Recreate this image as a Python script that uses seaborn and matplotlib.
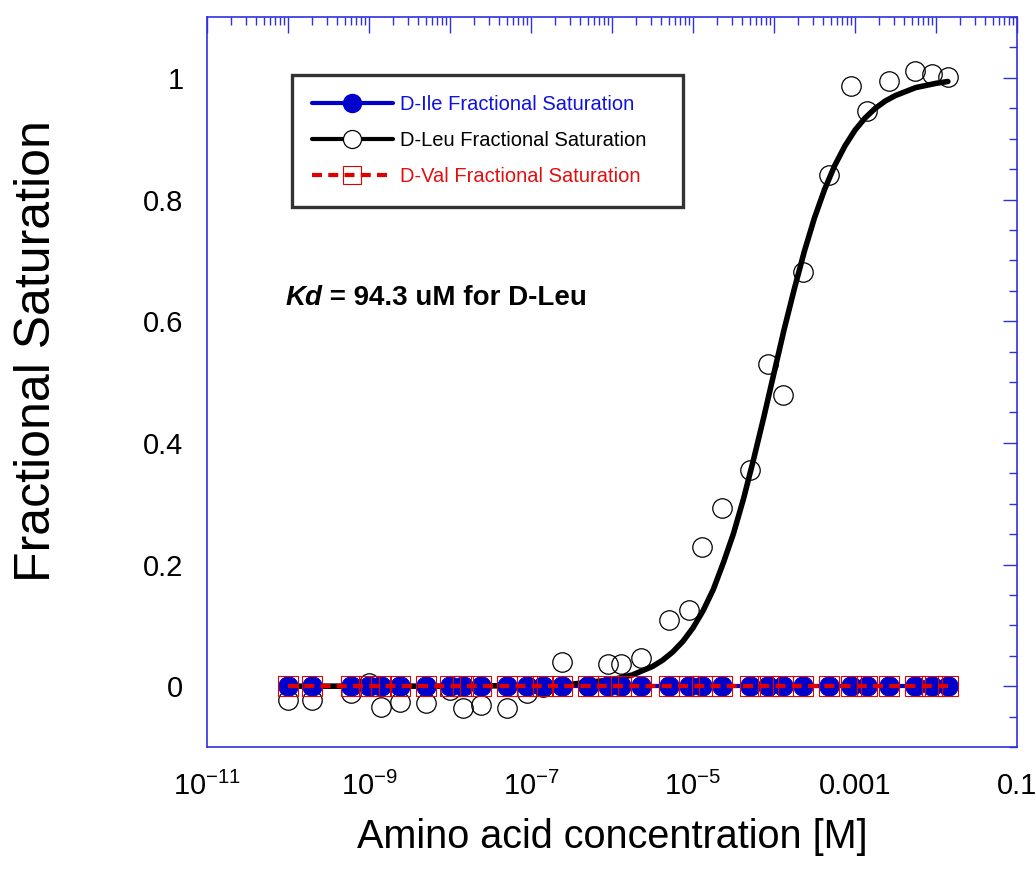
import numpy as np
import seaborn as sns
import matplotlib
matplotlib.use('Agg')
import matplotlib.pyplot as plt
from matplotlib.lines import Line2D
from matplotlib.ticker import LogLocator, FuncFormatter, NullFormatter, MultipleLocator

# concentrations [M] of the titration points
conc = [1e-10, 2e-10, 6e-10, 1e-9, 1.4e-9, 2.4e-9, 5e-9, 1e-8, 1.45e-8, 2.4e-8,
        5e-8, 9e-8, 1.4e-7, 2.4e-7, 5e-7, 9e-7, 1.3e-6, 2.3e-6, 5e-6, 9e-6,
        1.3e-5, 2.3e-5, 5e-5, 8.5e-5, 1.3e-4, 2.3e-4, 4.8e-4, 9e-4, 1.4e-3,
        2.6e-3, 5.5e-3, 9e-3, 1.4e-2]

# fractional saturation
ile_sat = [0.0] * len(conc)
val_sat = [0.0] * len(conc)
leu_sat = [-0.023, -0.023, -0.012, 0.005, -0.034, -0.026, -0.028, -0.007, -0.036, -0.031,
           -0.036, -0.012, -0.002, 0.039, 0.001, 0.037, 0.037, 0.046, 0.108, 0.126,
           0.228, 0.293, 0.355, 0.530, 0.478, 0.681, 0.841, 0.987, 0.946,
           0.995, 1.011, 1.007, 1.002]

# fitted D-Leu binding curve (Kd = 94.3 uM)
fit_conc = [1e-10, 1e-8, 1e-7, 3.16e-7, 1e-6, 1.78e-6, 3.16e-6, 4.22e-6, 5.62e-6, 7.5e-6,
            1e-5, 1.33e-5, 1.78e-5, 2.37e-5, 3.16e-5, 4.22e-5, 5.62e-5, 7.5e-5, 1e-4,
            1.33e-4, 1.78e-4, 2.37e-4, 3.16e-4, 4.22e-4, 5.62e-4, 7.5e-4, 1e-3, 1.33e-3,
            1.78e-3, 2.37e-3, 3.16e-3, 5.62e-3, 1e-2, 1.4e-2]
fit_sat = [0.0, 0.0001, 0.0011, 0.0033, 0.0105, 0.0185, 0.0324, 0.0428, 0.0563, 0.0737,
           0.096, 0.124, 0.159, 0.203, 0.251, 0.309, 0.374, 0.443, 0.515,
           0.586, 0.653, 0.715, 0.770, 0.817, 0.856, 0.888, 0.914, 0.934,
           0.950, 0.962, 0.971, 0.984, 0.991, 0.994]

labels = ['D-Ile Fractional Saturation', 'D-Leu Fractional Saturation', 'D-Val Fractional Saturation']
label_colors = ['#1010e0', 'black', '#e01010']

sns.set_style('white')
plt.rcParams['font.family'] = ['Liberation Sans', 'DejaVu Sans']
plt.rcParams['text.color'] = 'black'
plt.rcParams['axes.labelcolor'] = 'black'
plt.rcParams['xtick.labelcolor'] = 'black'
plt.rcParams['ytick.labelcolor'] = 'black'
plt.rcParams['axes.unicode_minus'] = False

fig = plt.figure(figsize=(10.36, 8.77), dpi=100)
ax = fig.add_axes([0.1998, 0.1482, 0.7819, 0.8324])

blue = '#0000cc'
red = '#e00000'

# D-Leu data points (open circles)
sns.lineplot(x=conc, y=leu_sat, ax=ax, estimator=None, sort=False, linestyle='none',
             marker='o', markersize=14, markerfacecolor='none', markeredgecolor='black',
             markeredgewidth=0.9, zorder=2)
# D-Ile connecting line
sns.lineplot(x=conc, y=ile_sat, ax=ax, estimator=None, color=blue, linewidth=3, zorder=1)
# fit curve
sns.lineplot(x=fit_conc, y=fit_sat, ax=ax, estimator=None, color='black', linewidth=4, zorder=3)
# D-Ile markers
sns.lineplot(x=conc, y=ile_sat, ax=ax, estimator=None, linestyle='none', marker='o',
             markersize=14, color=blue, markeredgecolor=blue, zorder=4)
# D-Val dashed line with open squares
sns.lineplot(x=conc, y=val_sat, ax=ax, estimator=None, color=red, linewidth=3,
             dashes=False, linestyle=(0, (2.4, 1.5)), marker='s', markersize=14.5,
             markerfacecolor='none', markeredgecolor=red, markeredgewidth=0.8, zorder=5)

ax.set_xscale('log')
ax.set_xlim(1e-11, 0.1)
ax.set_ylim(-0.1, 1.1)

def dec_fmt(v, pos):
    e = int(round(np.log10(v)))
    if e % 2 == 0:
        return ''
    if e >= -3:
        return f'{v:g}'
    return r'$\mathregular{10^{%d}}$' % e

ax.xaxis.set_major_locator(LogLocator(base=10, numticks=30))
ax.xaxis.set_minor_locator(LogLocator(base=10, subs=np.arange(2, 10), numticks=30))
ax.xaxis.set_major_formatter(FuncFormatter(dec_fmt))
ax.xaxis.set_minor_formatter(NullFormatter())
ax.yaxis.set_major_locator(MultipleLocator(0.2))
ax.yaxis.set_minor_locator(MultipleLocator(0.05))
ax.yaxis.set_major_formatter(FuncFormatter(lambda v, p: f'{v:g}' if abs(v) > 1e-9 else '0'))

axis_blue = '#3030e0'
for s in ax.spines.values():
    s.set_color(axis_blue)
    s.set_linewidth(1.2)
ax.tick_params(which='both', direction='in', top=True, right=True, color=axis_blue, width=1.0)
ax.tick_params(axis='x', which='major', length=11.5, pad=18, labelsize=21)
ax.tick_params(axis='x', which='minor', length=6)
ax.tick_params(axis='y', which='major', length=10, pad=17, labelsize=21)
ax.tick_params(axis='y', which='minor', length=5.5)

ax.set_xlabel('Amino acid concentration [M]', fontsize=28.5, labelpad=12)
ax.set_ylabel('Fractional Saturation', fontsize=36)
ax.yaxis.set_label_coords(-0.182, 0.5425)

# Kd annotation
t1 = ax.text(9.2e-11, 0.627, 'Kd', fontsize=20, fontweight='bold', fontstyle='italic',
             va='baseline', ha='left')
ax.annotate(' = 94.3 uM for D-Leu', xy=(1, 0), xycoords=t1, fontsize=20,
            fontweight='bold', va='bottom', ha='left')

handles = [
    Line2D([], [], color=blue, linewidth=3, marker='o', markersize=13, markerfacecolor=blue),
    Line2D([], [], color='black', linewidth=3, marker='o', markersize=13,
           markerfacecolor='white', markeredgewidth=0.9),
    Line2D([], [], color=red, linewidth=3, linestyle=(0, (2.4, 1.5)), marker='s',
           markersize=13.5, markerfacecolor='none', markeredgecolor=red, markeredgewidth=0.8),
]
leg = ax.legend(handles, labels, loc='upper left',
                bbox_to_anchor=(0.105, 0.7452, 0.4827, 0.1753), mode='expand',
                fontsize=14.5, frameon=True, fancybox=False, borderpad=1.0,
                handlelength=4.0, handletextpad=0.35, labelspacing=0.85,
                borderaxespad=0, numpoints=1)
leg.get_frame().set_edgecolor('black')
leg.get_frame().set_linewidth(2.4)
for txt, c in zip(leg.get_texts(), label_colors):
    txt.set_color(c)

fig.savefig('out.png', dpi=100)
